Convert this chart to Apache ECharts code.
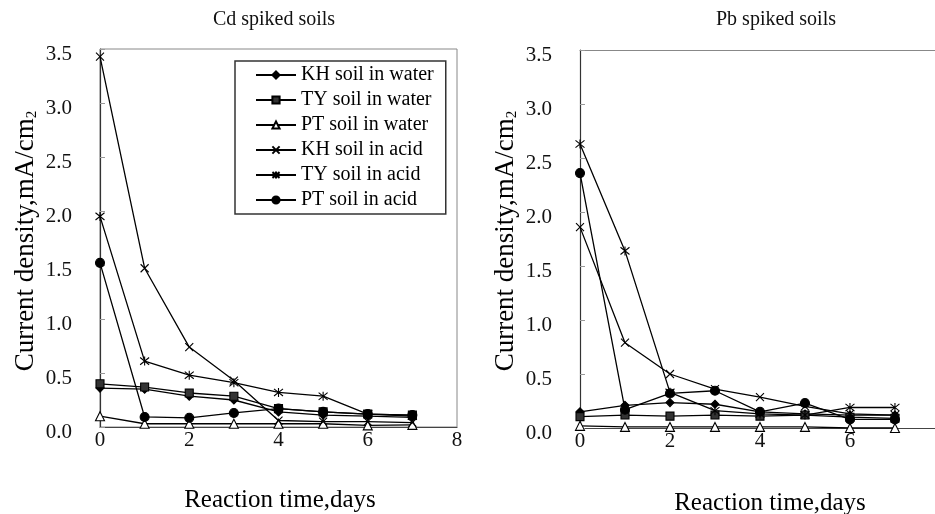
<!DOCTYPE html>
<html>
<head>
<meta charset="utf-8">
<script src="https://cdn.jsdelivr.net/npm/echarts@6/dist/echarts.min.js"></script>
<style>
  html, body { margin: 0; padding: 0; background: #fff; }
  #chart { width: 935px; height: 514px; }
</style>
</head>
<body>
<div id="chart"></div>
<script>
// Reaction time (days)
const days = [0, 1, 2, 3, 4, 5, 6, 7];
const xTicks = [0, 2, 4, 6, 8];
const yTicks = [0, 0.5, 1.0, 1.5, 2.0, 2.5, 3.0, 3.5];

const seriesNames = [
  'KH soil in water', 'TY soil in water', 'PT soil in water',
  'KH soil in acid', 'TY soil in acid', 'PT soil in acid'
];

// Cd spiked soils, current density (mA/cm2)
const cdKHWater = [0.36, 0.35, 0.285, 0.25, 0.14, 0.11, 0.10, 0.09];
const cdTYWater = [0.40, 0.37, 0.315, 0.285, 0.17, 0.14, 0.12, 0.11];
const cdPTWater = [0.10, 0.03, 0.03, 0.03, 0.03, 0.03, 0.015, 0.02];
const cdKHAcid  = [3.43, 1.47, 0.74, 0.43, 0.06, 0.05, 0.05, 0.04];
const cdTYAcid  = [1.95, 0.61, 0.48, 0.41, 0.32, 0.285, 0.12, 0.10];
const cdPTAcid  = [1.52, 0.093, 0.085, 0.13, 0.17, 0.14, 0.12, 0.11];

// Pb spiked soils, current density (mA/cm2)
const pbKHWater = [0.15, 0.21, 0.235, 0.22, 0.15, 0.13, 0.12, 0.12];
const pbTYWater = [0.105, 0.12, 0.11, 0.12, 0.11, 0.12, 0.10, 0.09];
const pbPTWater = [0.02, 0.01, 0.01, 0.01, 0.01, 0.01, 0.0, 0.0];
const pbKHAcid  = [1.86, 0.79, 0.50, 0.36, 0.285, 0.20, 0.13, 0.12];
const pbTYAcid  = [2.63, 1.64, 0.33, 0.16, 0.13, 0.12, 0.19, 0.19];
const pbPTAcid  = [2.36, 0.17, 0.32, 0.345, 0.15, 0.23, 0.08, 0.08];

// The Pb panel is cut at the right page edge, just short of day 8
const pbXMax = 7.89;

const FONT = '"Liberation Serif", "DejaVu Serif", serif';
const crossPath = 'path://M0,0L10,10M10,0L0,10';
const starPath = 'path://M1,1L9,9M9,1L1,9M5,0L5,10';

const markerStyles = [
  { symbol: 'diamond', size: 8, fill: '#000' },
  { symbol: 'rect', size: 8, fill: '#333' },
  { symbol: 'triangle', size: 9, fill: '#fff' },
  { symbol: crossPath, size: 8, fill: '#000' },
  { symbol: starPath, size: 9, fill: '#000' },
  { symbol: 'circle', size: 9, fill: '#000' }
];

function makeSeries(values, idx, gridIdx) {
  const m = markerStyles[idx];
  return {
    type: 'line',
    name: seriesNames[idx],
    xAxisIndex: gridIdx,
    yAxisIndex: gridIdx,
    data: days.map((d, i) => [d, values[i]]),
    symbol: m.symbol,
    symbolSize: m.size,
    showSymbol: true,
    lineStyle: { color: '#000', width: 1.3 },
    itemStyle: { color: m.fill, borderColor: '#000', borderWidth: 1.1 },
    animation: false,
    z: 3
  };
}

const cdSets = [cdKHWater, cdTYWater, cdPTWater, cdKHAcid, cdTYAcid, cdPTAcid];
const pbSets = [pbKHWater, pbTYWater, pbPTWater, pbKHAcid, pbTYAcid, pbPTAcid];

function xAxisFor(gridIdx) {
  return {
    type: 'value', gridIndex: gridIdx,
    min: xTicks[0],
    max: gridIdx === 0 ? xTicks[xTicks.length - 1] : pbXMax,
    interval: xTicks[1] - xTicks[0],
    axisLine: { show: true, onZero: false, lineStyle: { color: '#444', width: 1.2 } },
    axisTick: { show: false },
    splitLine: { show: false },
    axisLabel: { fontFamily: FONT, fontSize: 21, color: '#111', margin: 3,
                 showMaxLabel: gridIdx === 0,
                 formatter: v => (xTicks.indexOf(v) >= 0 ? String(v) : '') }
  };
}
// Top frame line of the Pb panel (its right side runs off the page)
const pbTopFrame = {
  type: 'value', gridIndex: 1, position: 'top',
  min: xTicks[0], max: pbXMax,
  axisLine: { show: true, onZero: false, lineStyle: { color: '#888', width: 1 } },
  axisTick: { show: false }, axisLabel: { show: false }, splitLine: { show: false }
};
function yAxisFor(gridIdx) {
  return {
    type: 'value', gridIndex: gridIdx,
    min: yTicks[0], max: yTicks[yTicks.length - 1], interval: yTicks[1] - yTicks[0],
    axisLine: { show: true, onZero: false, lineStyle: { color: '#333', width: 1.2 } },
    axisTick: { show: true, inside: true, length: 5, lineStyle: { color: '#999' } },
    splitLine: { show: false },
    axisLabel: { fontFamily: FONT, fontSize: 21, color: '#111', margin: 28,
                 verticalAlign: 'top', lineHeight: 10,
                 formatter: v => v.toFixed(1) }
  };
}

function axisTitle(x, y, text, size, rotated, sup) {
  const rich = {
    a: { fontFamily: FONT, fontSize: size, color: '#111', verticalAlign: 'middle' },
    s: { fontFamily: FONT, fontSize: 15, color: '#111', verticalAlign: 'bottom' }
  };
  return {
    type: 'text', x: x, y: y, rotation: rotated ? Math.PI / 2 : 0, z: 10,
    style: {
      text: '{a|' + text + '}' + (sup ? '{s|' + sup + '}' : ''),
      rich: rich, align: 'center', verticalAlign: 'middle'
    }
  };
}
function plotTitle(x, y, text) {
  return {
    type: 'text', x: x, y: y, z: 10,
    style: { text: text, fontFamily: FONT, fontSize: 20, fill: '#111',
             align: 'center', verticalAlign: 'middle' }
  };
}

const chart = echarts.init(document.getElementById('chart'), null, { renderer: 'canvas' });
chart.setOption({
  backgroundColor: '#fff',
  animation: false,
  grid: [
    { left: 100, top: 49, width: 357, height: 378, show: true, borderColor: '#888', borderWidth: 1 },
    { left: 580, top: 50, right: 0, height: 378, show: false }
  ],
  xAxis: [xAxisFor(0), xAxisFor(1), pbTopFrame],
  yAxis: [yAxisFor(0), yAxisFor(1)],
  legend: {
    orient: 'vertical', left: 235, top: 61,
    data: seriesNames,
    selectedMode: false,
    backgroundColor: '#fff',
    borderColor: '#333', borderWidth: 1.5,
    padding: [4, 12, 4, 20],
    itemGap: 5, itemWidth: 40, itemHeight: 9,
    textStyle: { fontFamily: FONT, fontSize: 20, lineHeight: 20, color: '#000' }
  },
  graphic: [
    plotTitle(274, 20, 'Cd spiked soils'),
    plotTitle(776, 20, 'Pb spiked soils'),
    axisTitle(26, 241, 'Current density,mA/cm', 27, true, '2'),
    axisTitle(506, 241, 'Current density,mA/cm', 27, true, '2'),
    axisTitle(280, 500, 'Reaction time,days', 25, false),
    axisTitle(770, 503, 'Reaction time,days', 25, false)
  ],
  series: cdSets.map((v, i) => makeSeries(v, i, 0))
    .concat(pbSets.map((v, i) => makeSeries(v, i, 1)))
});
</script>
</body>
</html>
